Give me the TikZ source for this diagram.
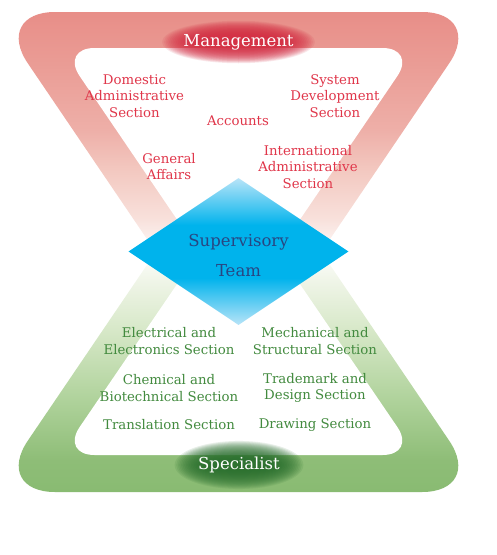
\documentclass[tikz,border=0pt]{standalone}
\usepackage{fontspec}
\setmainfont{DejaVu Serif}
\usetikzlibrary{positioning, shapes.geometric}

\definecolor{redA}{RGB}{232,142,136}
\definecolor{redB}{RGB}{234,155,148}
\definecolor{redC}{RGB}{238,175,168}
\definecolor{redD}{RGB}{243,200,192}
\definecolor{redE}{RGB}{248,225,220}
\definecolor{greenA}{RGB}{137,187,114}
\definecolor{greenB}{RGB}{142,189,119}
\definecolor{greenC}{RGB}{175,210,155}
\definecolor{greenD}{RGB}{215,232,200}
\definecolor{greenE}{RGB}{240,245,232}
\definecolor{secred}{RGB}{224,54,74}
\definecolor{secgreen}{RGB}{66,138,62}
\definecolor{mgmtglow}{RGB}{212,44,66}
\definecolor{specglow}{RGB}{40,110,45}
\definecolor{teamlight}{RGB}{184,228,248}
\definecolor{teamcyan}{RGB}{0,179,236}
\definecolor{teamtext}{RGB}{40,70,130}

\pgfdeclareverticalshading{redband}{100bp}{color(0bp)=(white); color(41bp)=(white); color(46.3bp)=(redE); color(53.2bp)=(redD); color(58.7bp)=(redC); color(68.4bp)=(redB); color(75bp)=(redA); color(100bp)=(redA)}
\pgfdeclareverticalshading{greenband}{100bp}{color(0bp)=(greenA); color(25bp)=(greenA); color(29.4bp)=(greenB); color(37.7bp)=(greenC); color(47.4bp)=(greenD); color(54.3bp)=(greenE); color(58.4bp)=(white); color(100bp)=(white)}
\pgfdeclareverticalshading{teamshade}{100bp}{color(0bp)=(teamlight); color(25bp)=(teamlight); color(41bp)=(teamcyan); color(59bp)=(teamcyan); color(75bp)=(teamlight); color(100bp)=(teamlight)}

\begin{document}
\begin{tikzpicture}[x=1pt, y=-1pt, node distance=1cm and 1cm, on grid,
    redsec/.style={text=secred, align=center, font=\fontsize{13.3}{16.8}\selectfont},
    greensec/.style={text=secgreen, align=center, font=\fontsize{13.3}{16.5}\selectfont},
    headtext/.style={text=white, font=\fontsize{16.5}{20}\selectfont},
    teamshape/.style={diamond, minimum width=220pt, minimum height=147pt, inner sep=0pt,
      shade, shading=teamshade}]
  \useasboundingbox (0,0) rectangle (497,555);

  % upper band
  \begin{scope}
    \clip (0,0) rectangle (497,252);
    \begin{scope}
      \clip[rounded corners=62pt] (-7,12) -- (484,12) -- (238.5,374) -- cycle;
      \shade[shading=redband] (0,12) rectangle (497,374);
    \end{scope}
    \fill[white, rounded corners=34pt] (60.6,48) -- (416.4,48) -- (238.5,310) -- cycle;
  \end{scope}
  % lower band
  \begin{scope}
    \clip (0,252) rectangle (497,555);
    \begin{scope}
      \clip[rounded corners=62pt] (-7,492) -- (484,492) -- (238.5,130) -- cycle;
      \shade[shading=greenband] (0,130) rectangle (497,492);
    \end{scope}
    \fill[white, rounded corners=34pt] (60.6,455) -- (416.4,455) -- (238.5,194) -- cycle;
  \end{scope}

  % glows
  \coordinate (mgmtc) at (238.5,42);
  \coordinate (specc) at (239,465);
  \foreach \k in {0,...,19}
    \fill[mgmtglow, opacity=0.11] (mgmtc) ellipse ({44+1.7*\k} and {7+0.75*\k});
  \foreach \k in {0,...,19}
    \fill[specglow, opacity=0.11] (specc) ellipse ({34+1.6*\k} and {6+0.95*\k});

  \node[headtext] (mgmt) at (mgmtc) {Management};
  \node[headtext] (spec) at (specc) {Specialist};

  % supervisory team
  \node[teamshape] (team) at (238.5,251.5) {};
  \node[text=teamtext, align=center, font=\fontsize{16.5}{30}\selectfont] (teamlbl) at (238.5,255.5) {Supervisory\\Team};

  % management sections
  \node[redsec] (dom) at (134.5,96) {Domestic\\Administrative\\Section};
  \node[redsec] (sys) at (335,96) {System\\Development\\Section};
  \node[redsec] (acc) at (238,121) {Accounts};
  \node[redsec] (gen) at (169,166.5) {General\\Affairs};
  \node[redsec] (intl) at (308,167) {International\\Administrative\\Section};

  % specialist sections
  \node[greensec] (elec) at (169,341) {Electrical and\\Electronics Section};
  \node[greensec] (mech) [right=146pt of elec] {Mechanical and\\Structural Section};
  \node[greensec] (chem) [below=47pt of elec] {Chemical and\\Biotechnical Section};
  \node[greensec] (trade) [right=146pt of chem] {Trademark and\\Design Section};
  \node[greensec] (trans) [below=37pt of chem] {Translation Section};
  \node[greensec] (drw) [right=146pt of trans] {Drawing Section};
\end{tikzpicture}
\end{document}
